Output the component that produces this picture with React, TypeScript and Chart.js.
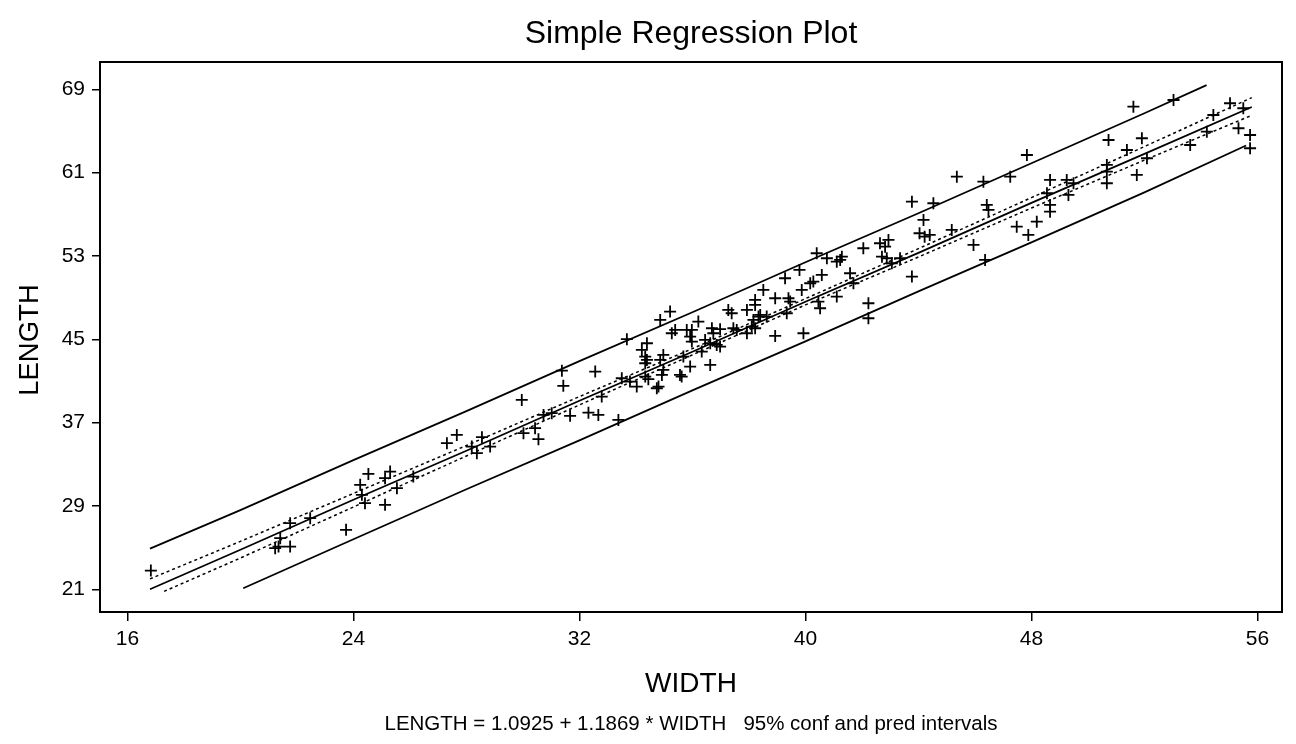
import React, { useEffect, useRef } from "react";
import { Chart, registerables } from "chart.js";

Chart.register(...registerables);

const FONT = '"Liberation Sans", Arial, Helvetica, sans-serif';

const titleText = "Simple Regression Plot";
const xAxisTitle = "WIDTH";
const yAxisTitle = "LENGTH";
const footerText = "LENGTH = 1.0925 + 1.1869 * WIDTH   95% conf and pred intervals";

const xTicks = [16, 24, 32, 40, 48, 56];
const yTicks = [21, 29, 37, 45, 53, 61, 69];

const widthValues = [
  16.83, 24.53, 24.24, 25.3, 25.12, 25.54, 26.12, 24.3, 24.41, 25.12, 23.74, 21.76, 22.47, 21.41, 21.35, 21.23, 21.76,
  33.68, 34.39, 34.21, 31.38, 32.56, 31.43, 29.96, 32.79, 30.73, 31.02, 31.67, 32.32, 32.67, 33.38, 30.43, 30.02, 30.55,
  27.66, 27.31, 28.55, 28.84, 28.19, 28.37, 34.03, 33.79, 34.74, 34.33, 34.44, 34.39, 34.33, 33.5,
  40.4, 40.76, 41.11, 39.79, 39.28, 40.58, 40.28, 40.17, 39.87, 41.11, 40.46, 40.52, 38.51, 38.22, 38.22, 38.93, 39.4,
  39.46, 39.34, 37.27, 37.39, 37.93, 38.63, 38.16, 38.34, 38.4, 38.1, 38.22, 37.93, 38.93, 39.93, 37.45, 37.57, 36.98,
  35.21, 34.86, 35.39, 35.27, 35.8, 35.98, 36.21, 35.92, 35.98, 36.69, 36.74, 36.45, 36.63, 36.86, 36.98, 36.33,
  34.33, 34.97, 34.86, 35.68, 35.92, 36.63, 34.92, 34.97, 35.56, 35.62, 34.8,
  47.84, 45.36, 46.3, 47.25, 48.66, 48.55, 48.66, 48.66, 43.77, 44.53, 44.18, 44.04, 44.22, 44.4, 45.18, 46.42, 46.48,
  45.95, 46.36, 47.48, 48.19, 47.89, 42.94, 42.64, 42.82, 42.05, 42.71, 42.88, 43.06, 43.35, 41.23, 41.29, 41.58, 41.7,
  43.77, 42.23, 42.23,
  51.61, 53.03, 55.03, 55.5, 54.44, 50.73, 51.91, 51.38, 52.09, 53.62, 54.21, 55.33, 55.74, 55.74, 50.67, 50.67, 50.67,
  51.73, 49.25, 49.49, 49.31,
];

const lengthValues = [
  22.8, 32.08, 31.03, 32.3, 31.67, 30.71, 31.82, 30.07, 29.27, 29.11, 26.71, 27.35, 27.83, 25.91, 25.1, 24.95, 25.1,
  45.01, 44.62, 43.98, 41.99, 41.9, 40.53, 39.18, 39.5, 37.74, 37.91, 37.65, 37.96, 37.74, 37.26, 36.47, 35.99, 35.41,
  35.82, 35.03, 35.6, 34.7, 34.7, 34.07, 40.46, 40.94, 40.3, 41.42, 41.17, 43.02, 42.7, 41.26,
  53.26, 52.78, 52.45, 51.66, 50.86, 51.18, 50.54, 50.38, 49.74, 49.1, 48.62, 47.98, 49.74, 48.78, 48.3, 48.94, 48.94,
  48.62, 47.5, 47.82, 47.5, 47.82, 47.18, 46.86, 47.18, 47.34, 46.22, 46.06, 45.58, 45.32, 45.58, 46.06, 45.9, 45.97,
  47.66, 46.86, 45.9, 45.58, 45.9, 45.9, 46.7, 45.26, 44.78, 46.06, 45.58, 44.94, 44.62, 44.46, 44.3, 43.82,
  43.34, 43.5, 43.02, 43.34, 42.38, 42.54, 41.58, 42.06, 41.58, 41.42, 40.46,
  62.69, 60.61, 60.13, 60.61, 60.3, 59.02, 57.9, 57.25, 58.21, 58.06, 56.46, 55.18, 54.85, 55.02, 55.5, 57.9, 57.42,
  54.06, 52.62, 55.81, 56.29, 55.02, 54.54, 54.22, 53.89, 53.74, 52.93, 52.78, 52.3, 52.78, 52.62, 52.93, 51.34, 50.38,
  51.02, 48.46, 47.02,
  67.33, 67.97, 67.66, 67.18, 66.53, 64.13, 64.3, 63.17, 62.38, 63.65, 64.93, 65.26, 64.61, 63.34, 61.74, 61.09, 59.98,
  60.78, 60.3, 59.98, 58.86,
];

const fitX = [16.8, 20, 24, 28, 32, 36, 40, 44, 48, 52, 55.8];
const fitY = [21.0, 24.8, 29.6, 34.3, 39.1, 43.8, 48.6, 53.3, 58.1, 62.8, 67.3];

const confUpperX = [16.8, 20, 24, 28, 32, 36, 40, 44, 48, 52, 55.8];
const confUpperY = [22.0, 25.6, 30.2, 34.8, 39.5, 44.1, 48.9, 53.7, 58.6, 63.5, 68.2];
const confLowerX = [17.3, 20, 24, 28, 32, 36, 40, 44, 48, 52, 55.8];
const confLowerY = [20.8, 24.0, 28.9, 33.8, 38.7, 43.5, 48.3, 52.9, 57.6, 62.2, 66.5];

const predUpperX = [16.8, 20, 24, 28, 32, 36, 40, 44, 48, 52, 54.2];
const predUpperY = [24.9, 28.6, 33.4, 38.1, 42.9, 47.6, 52.4, 57.1, 61.9, 66.7, 69.4];
const predLowerX = [20.1, 24, 28, 32, 36, 40, 44, 48, 52, 55.6];
const predLowerY = [21.1, 25.8, 30.6, 35.3, 40.1, 44.8, 49.6, 54.3, 59.1, 63.6];

const pairs = (xs: number[], ys: number[]) => xs.map((x, i) => ({ x, y: ys[i] }));

const lineDs = (label: string, xs: number[], ys: number[], dash: number[] = [], width = 1.8) => ({
  label,
  data: pairs(xs, ys),
  showLine: true,
  borderColor: "#000",
  borderWidth: width,
  borderDash: dash,
  pointRadius: 0,
  pointHoverRadius: 0,
  fill: false,
  tension: 0,
});

const textPlugin = {
  id: "staticTexts",
  afterDraw(chart: any) {
    const { ctx, chartArea } = chart;
    const cx = (chartArea.left + chartArea.right) / 2;
    ctx.save();
    ctx.strokeStyle = "#000";
    ctx.lineWidth = 2;
    ctx.strokeRect(chartArea.left, chartArea.top, chartArea.right - chartArea.left, chartArea.bottom - chartArea.top);
    ctx.fillStyle = "#000";
    ctx.textAlign = "center";
    ctx.textBaseline = "middle";
    ctx.font = `32px ${FONT}`;
    ctx.fillText(titleText, cx, 34);
    ctx.font = `28px ${FONT}`;
    ctx.fillText(xAxisTitle, cx, 684);
    ctx.font = `20.5px ${FONT}`;
    ctx.fillText(footerText, cx, 724);
    ctx.translate(30, 340);
    ctx.rotate(-Math.PI / 2);
    ctx.font = `27.5px ${FONT}`;
    ctx.fillText(yAxisTitle, 0, 0);
    ctx.restore();
  },
};

export default function App() {
  const ref = useRef<HTMLCanvasElement | null>(null);

  useEffect(() => {
    document.body.style.margin = "0";
    const canvas = ref.current;
    if (!canvas) return;
    const chart = new Chart(canvas, {
      type: "scatter",
      data: {
        datasets: [
          lineDs("pred upper", predUpperX, predUpperY),
          lineDs("pred lower", predLowerX, predLowerY),
          lineDs("conf upper", confUpperX, confUpperY, [3, 3], 1.5),
          lineDs("conf lower", confLowerX, confLowerY, [3, 3], 1.5),
          lineDs("fit", fitX, fitY),
          {
            label: "data",
            data: pairs(widthValues, lengthValues),
            pointStyle: "cross",
            pointRadius: 6,
            pointHoverRadius: 6,
            borderColor: "#000",
            backgroundColor: "#000",
            pointBorderWidth: 1.8,
            showLine: false,
          } as any,
        ],
      },
      options: {
        animation: false,
        responsive: true,
        maintainAspectRatio: false,
        events: [],
        layout: { padding: { top: 62, right: 14, left: 0, bottom: 0 } },
        plugins: {
          legend: { display: false },
          tooltip: { enabled: false },
          title: { display: false },
        },
        scales: {
          x: {
            type: "linear",
            min: 15.03,
            max: 56.87,
            afterBuildTicks: (s: any) => {
              s.ticks = xTicks.map((v) => ({ value: v }));
            },
            afterFit: (s: any) => {
              s.height = 132;
            },
            grid: { drawOnChartArea: false, drawTicks: true, tickLength: 9, color: "#000", lineWidth: 1.5 },
            border: { display: true, color: "#000", width: 2 },
            ticks: {
              color: "#000",
              font: { size: 21, family: FONT },
              padding: 6,
              maxRotation: 0,
              autoSkip: false,
            },
          },
          y: {
            type: "linear",
            min: 18.82,
            max: 71.62,
            afterBuildTicks: (s: any) => {
              s.ticks = yTicks.map((v) => ({ value: v }));
            },
            afterFit: (s: any) => {
              s.width = 100;
            },
            grid: { drawOnChartArea: false, drawTicks: true, tickLength: 8, color: "#000", lineWidth: 1.5 },
            border: { display: true, color: "#000", width: 2 },
            ticks: {
              color: "#000",
              font: { size: 21, family: FONT },
              padding: 7,
              autoSkip: false,
            },
          },
        },
      },
      plugins: [textPlugin],
    });
    return () => chart.destroy();
  }, []);

  return (
    <div style={{ width: 1296, height: 744, position: "relative", background: "#fff" }}>
      <canvas ref={ref} />
    </div>
  );
}
